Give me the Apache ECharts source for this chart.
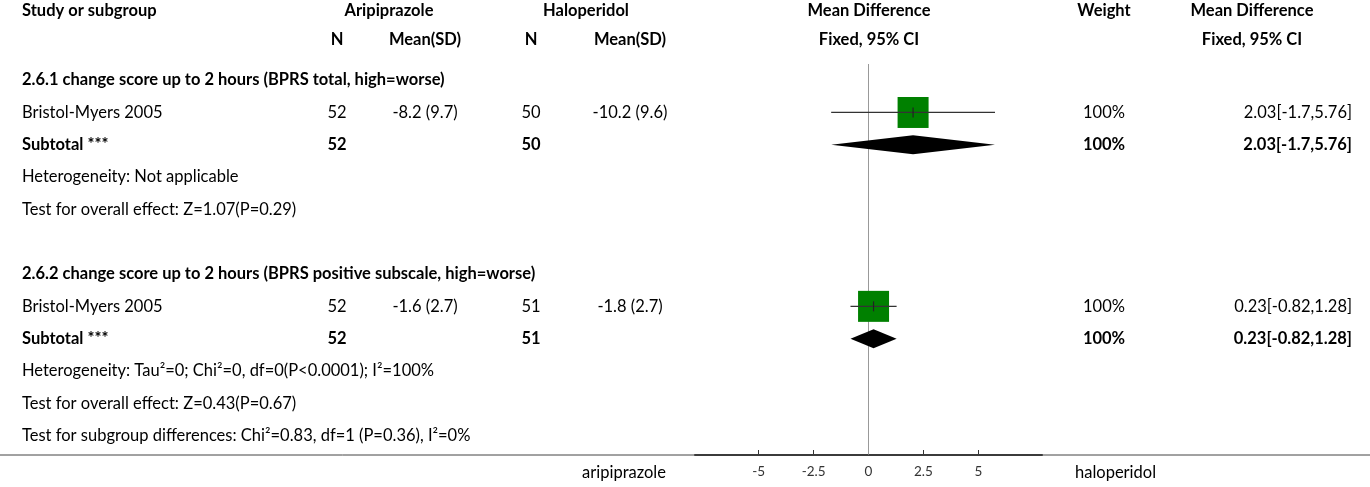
<!DOCTYPE html>
<html>
<head>
<meta charset="utf-8">
<script src="https://cdn.jsdelivr.net/npm/echarts@6/dist/echarts.min.js"></script>
<style>
html,body{margin:0;padding:0;background:#fff;}
#chart{width:1370px;height:487px;}
</style>
</head>
<body>
<div id="chart"></div>
<script>
// ---------------- DATA ----------------
const rowLabels = [
  '2.6.1 change score up to 2 hours (BPRS total, high=worse)',
  'Bristol-Myers 2005',
  'Subtotal ***',
  'Heterogeneity: Not applicable',
  'Test for overall effect: Z=1.07(P=0.29)',
  '',
  '2.6.2 change score up to 2 hours (BPRS positive subscale, high=worse)',
  'Bristol-Myers 2005',
  'Subtotal ***',
  'Heterogeneity: Tau\u00B2=0; Chi\u00B2=0, df=0(P<0.0001); I\u00B2=100%',
  'Test for overall effect: Z=0.43(P=0.67)',
  'Test for subgroup differences: Chi\u00B2=0.83, df=1 (P=0.36), I\u00B2=0%'
];
const rowTypes = ['group','study','subtotal','note','note','blank','group','study','subtotal','note','note','note'];
const aripN    = ['', '52', '52', '', '', '', '', '52', '52', '', '', ''];
const aripMean = ['', '-8.2 (9.7)', '', '', '', '', '', '-1.6 (2.7)', '', '', '', ''];
const haloN    = ['', '50', '50', '', '', '', '', '51', '51', '', '', ''];
const haloMean = ['', '-10.2 (9.6)', '', '', '', '', '', '-1.8 (2.7)', '', '', '', ''];
const meanDiff = [null, 2.03, 2.03, null, null, null, null, 0.23, 0.23, null, null, null];
const ciLow    = [null, -1.7, -1.7, null, null, null, null, -0.82, -0.82, null, null, null];
const ciHigh   = [null, 5.76, 5.76, null, null, null, null, 1.28, 1.28, null, null, null];
const weights  = ['', '100%', '100%', '', '', '', '', '100%', '100%', '', '', ''];
const ciText   = ['', '2.03[-1.7,5.76]', '2.03[-1.7,5.76]', '', '', '', '', '0.23[-0.82,1.28]', '0.23[-0.82,1.28]', '', '', ''];
const xTicks   = [-5, -2.5, 0, 2.5, 5];
const headerTop = ['Study or subgroup', 'Aripiprazole', 'Haloperidol', 'Mean Difference', 'Weight', 'Mean Difference'];
const headerSub = ['N', 'Mean(SD)', 'N', 'Mean(SD)', 'Fixed, 95% CI', 'Fixed, 95% CI'];
const favourLeft = 'aripiprazole';
const favourRight = 'haloperidol';

// ---------------- LAYOUT ----------------
const FONT = 'Lato, "Source Sans Pro", sans-serif';
const FS = 16.5;
const FSH = 16.5;
const W = 1370;
const yMin = -0.5, yMax = 11.6;
const headerRowTop = -2.14, headerRowSub = -1.24;
const cols = {
  study:   {x: 22,   align: 'left'},
  aripN:   {x: 337,  align: 'center'},
  aripM:   {x: 425,  align: 'center'},
  haloN:   {x: 531,  align: 'center'},
  haloM:   {x: 630,  align: 'center'},
  md:      {x: 869,  align: 'center'},
  weight:  {x: 1104, align: 'center'},
  ci:      {x: 1352, align: 'right'},
  ciHead:  {x: 1252, align: 'center'},
  arip:    {x: 389,  align: 'center'},
  halo:    {x: 586,  align: 'center'}
};

// build text cells
const cells = [];
function addCell(col, row, text, bold, size) {
  if (text === '' || text == null) return;
  cells.push({col, row, text, bold, size: size || FS});
}
addCell('study', headerRowTop, headerTop[0], true, FSH);
addCell('arip', headerRowTop, headerTop[1], true, FSH);
addCell('halo', headerRowTop, headerTop[2], true, FSH);
addCell('md', headerRowTop, headerTop[3], true, FSH);
addCell('weight', headerRowTop, headerTop[4], true, FSH);
addCell('ciHead', headerRowTop, headerTop[5], true, FSH);
addCell('aripN', headerRowSub, headerSub[0], true, FSH);
addCell('aripM', headerRowSub, headerSub[1], true, FSH);
addCell('haloN', headerRowSub, headerSub[2], true, FSH);
addCell('haloM', headerRowSub, headerSub[3], true, FSH);
addCell('md', headerRowSub, headerSub[4], true, FSH);
addCell('ciHead', headerRowSub, headerSub[5], true, FSH);
rowLabels.forEach((lab, r) => {
  const t = rowTypes[r];
  const b = (t === 'group' || t === 'subtotal');
  addCell('study', r, lab, b);
  addCell('aripN', r, aripN[r], t === 'subtotal');
  addCell('aripM', r, aripMean[r], false);
  addCell('haloN', r, haloN[r], t === 'subtotal');
  addCell('haloM', r, haloMean[r], false);
  addCell('weight', r, weights[r], t === 'subtotal');
  addCell('ci', r, ciText[r], t === 'subtotal');
});

const forestData = [];
meanDiff.forEach((m, r) => {
  if (m == null) return;
  forestData.push([m, r, ciLow[r], ciHigh[r], rowTypes[r] === 'subtotal' ? 1 : 0]);
});

const chart = echarts.init(document.getElementById('chart'), null, {renderer: 'canvas'});

const option = {
  animation: false,
  backgroundColor: '#fff',
  grid: {left: 695, width: 347, top: 64, height: 391, containLabel: false},
  xAxis: {
    type: 'value', min: -7.9, max: 7.9,
    axisLine: {show: true, onZero: false, lineStyle: {color: '#333', width: 2}},
    axisTick: {show: true, inside: true, length: 5, customValues: xTicks, lineStyle: {color: '#333', width: 1}},
    axisLabel: {show: true, customValues: xTicks, color: '#333', fontFamily: FONT, fontSize: 13.5, margin: 10,
      formatter: v => String(v)},
    splitLine: {show: false}
  },
  yAxis: {
    type: 'value', inverse: true, min: yMin, max: yMax, show: false
  },
  series: [
    {
      type: 'line', silent: true, symbol: 'none',
      data: [[0, yMin], [0, yMax]],
      lineStyle: {color: '#999', width: 1},
      z: 1
    },
    {
      type: 'custom', silent: true, clip: false, z: 3,
      data: forestData,
      renderItem: function (params, api) {
        const m = api.value(0), r = api.value(1), lo = api.value(2), hi = api.value(3), sub = api.value(4);
        const pm = api.coord([m, r]);
        const pl = api.coord([lo, r]);
        const ph = api.coord([hi, r]);
        const y = pm[1];
        if (sub === 1) {
          const hh = 9.5;
          return {
            type: 'polygon',
            shape: {points: [[pl[0], y], [pm[0], y - hh], [ph[0], y], [pm[0], y + hh]]},
            style: {fill: '#000'}
          };
        }
        const s = 31;
        return {
          type: 'group',
          children: [
            {type: 'rect', shape: {x: pm[0] - s / 2, y: y - s / 2, width: s, height: s}, style: {fill: '#008000'}},
            {type: 'line', shape: {x1: pl[0], y1: y, x2: ph[0], y2: y}, style: {stroke: '#333', lineWidth: 1.2}},
            {type: 'line', shape: {x1: pm[0], y1: y - 5, x2: pm[0], y2: y + 5}, style: {stroke: '#222', lineWidth: 1.2}}
          ]
        };
      }
    },
    {
      type: 'custom', silent: true, clip: false, z: 2,
      data: cells.map((c, i) => [0, c.row, i]),
      renderItem: function (params, api) {
        const c = cells[params.dataIndex];
        const col = cols[c.col];
        const y = api.coord([0, c.row])[1];
        const children = [{
          type: 'text',
          style: {
            text: c.text, x: col.x, y: y,
            align: col.align, verticalAlign: 'middle',
            fill: '#000',
            font: (c.bold ? 'bold ' : '') + c.size + 'px ' + FONT
          }
        }];
        if (params.dataIndex === 0) {
          const yb = api.coord([0, yMax])[1];
          const yl = yb + 18;
          children.push({type: 'line', shape: {x1: 0, y1: yb, x2: W, y2: yb}, style: {stroke: '#444', lineWidth: 1}});
          children.push({type: 'text', style: {text: favourLeft, x: 624, y: yl, align: 'center', verticalAlign: 'middle', fill: '#000', font: FS + 'px ' + FONT}});
          children.push({type: 'text', style: {text: favourRight, x: 1075, y: yl, align: 'left', verticalAlign: 'middle', fill: '#000', font: FS + 'px ' + FONT}});
        }
        return {type: 'group', children};
      }
    }
  ]
};
chart.setOption(option);
</script>
</body>
</html>
